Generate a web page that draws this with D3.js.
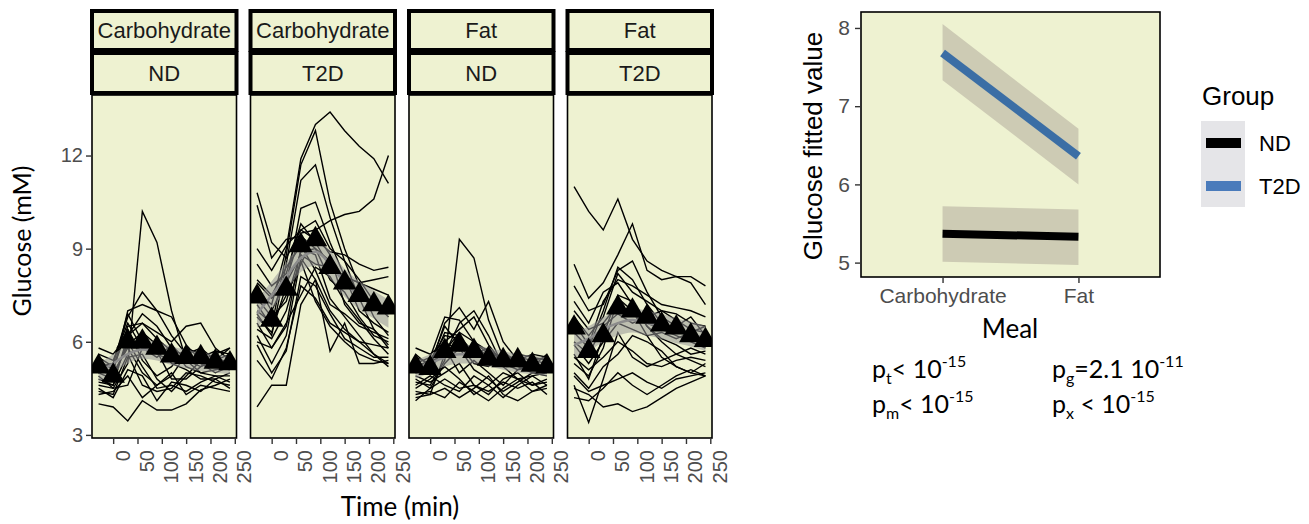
<!DOCTYPE html>
<html>
<head>
<meta charset="utf-8">
<script src="https://cdn.jsdelivr.net/npm/d3@7"></script>
<style>
  body { margin: 0; background: #fff; }
  svg { display: block; }
</style>
</head>
<body>
<svg id="chart" width="1309" height="524"></svg>
<script>
//
// DATA
//
// sampling times (min) of the meal test
const times = [-30, 0, 30, 60, 90, 120, 150, 180, 210, 240]
const timeTicks = [0, 50, 100, 150, 200, 250]
const glucoseTicks = [3, 6, 9, 12]

// facet labels
const meals = ['Carbohydrate', 'Carbohydrate', 'Fat', 'Fat']
const groups = ['ND', 'T2D', 'ND', 'T2D']

// individual subjects, glucose (mM) at each time
const subjCarbND = [
    [4.6, 4.5, 5.3, 10.2, 9.2, 7.0, 5.4, 5.0, 4.9, 4.9],
    [4.0, 3.9, 3.45, 4.1, 3.8, 3.8, 4.0, 4.45, 4.6, 4.8],
    [5.0, 5.3, 6.8, 7.6, 7.0, 6.2, 5.6, 5.3, 5.2, 5.5],
    [5.2, 5.0, 7.0, 7.2, 7.0, 6.8, 5.9, 5.4, 5.2, 5.3],
    [5.4, 5.1, 6.5, 6.6, 6.3, 6.0, 6.5, 6.6, 5.8, 5.4],
    [4.8, 4.6, 6.2, 6.9, 6.5, 5.8, 5.2, 5.0, 5.1, 5.2],
    [5.3, 5.0, 5.8, 5.0, 4.6, 4.9, 5.6, 5.3, 5.0, 5.2],
    [4.4, 4.3, 5.5, 5.6, 4.8, 4.4, 4.9, 5.4, 5.6, 5.8],
    [5.0, 4.8, 6.0, 5.2, 4.5, 4.6, 4.4, 4.7, 4.9, 4.7],
    [5.6, 5.4, 6.6, 5.8, 5.5, 5.9, 5.4, 5.2, 5.4, 5.6],
    [4.3, 4.4, 4.9, 4.2, 4.6, 5.0, 4.3, 4.6, 4.5, 4.4],
    [5.1, 4.9, 5.9, 6.3, 5.9, 5.3, 5.1, 4.8, 4.8, 5.0],
    [4.9, 4.5, 4.6, 5.8, 5.7, 4.8, 4.8, 5.2, 5.5, 5.3],
    [5.5, 5.2, 6.4, 5.4, 4.9, 5.2, 5.8, 5.6, 5.2, 5.1],
    [4.7, 4.6, 5.6, 4.6, 4.4, 4.5, 5.0, 4.9, 4.7, 4.6],
    [5.2, 5.3, 6.9, 6.0, 5.6, 5.4, 5.3, 5.5, 5.7, 5.6],
    [4.5, 4.2, 5.1, 4.9, 4.1, 4.7, 4.6, 4.4, 4.8, 4.5],
    [5.8, 5.6, 6.2, 6.6, 6.1, 5.7, 5.6, 5.8, 5.4, 5.8]
]
const subjCarbT2D = [
    [7.6, 7.2, 9.0, 11.9, 13.0, 13.4, 12.8, 12.3, 11.9, 11.1],
    [7.8, 7.0, 8.0, 9.5, 9.6, 9.9, 10.1, 10.2, 10.6, 12.0],
    [7.2, 6.5, 8.8, 11.7, 12.8, 10.5, 9.0, 7.8, 6.8, 6.2],
    [6.9, 6.2, 8.5, 11.2, 11.7, 10.0, 8.6, 7.4, 6.4, 5.8],
    [10.8, 9.2, 8.7, 9.6, 9.3, 8.9, 8.8, 8.5, 8.3, 8.4],
    [10.4, 8.7, 9.3, 9.4, 9.0, 8.6, 8.0, 7.6, 7.2, 7.0],
    [3.9, 4.6, 4.6, 7.2, 8.0, 7.0, 6.4, 6.0, 5.6, 5.2],
    [6.6, 5.8, 6.5, 9.0, 8.8, 7.4, 6.8, 6.2, 5.6, 5.3],
    [7.0, 6.6, 7.5, 8.5, 9.5, 8.8, 7.2, 6.6, 6.4, 5.9],
    [6.2, 5.3, 6.2, 8.7, 8.0, 5.7, 6.6, 5.3, 5.3, 5.4],
    [5.9, 5.0, 5.7, 8.1, 7.8, 6.9, 6.1, 5.8, 5.5, 5.5],
    [8.5, 7.8, 8.2, 9.8, 9.2, 8.4, 8.1, 7.9, 7.7, 7.5],
    [7.4, 6.8, 7.3, 8.9, 9.0, 8.0, 7.6, 6.8, 6.2, 6.0],
    [6.0, 5.8, 6.6, 7.5, 8.4, 8.1, 7.3, 6.7, 6.1, 5.6],
    [8.0, 7.5, 8.4, 9.1, 8.3, 7.2, 6.9, 6.5, 6.3, 6.1],
    [5.4, 4.8, 5.8, 7.8, 7.4, 6.6, 6.3, 6.0, 5.9, 5.8],
    [9.0, 8.3, 9.1, 9.6, 9.9, 9.0, 8.6, 8.0, 7.3, 6.8],
    [6.4, 6.1, 7.0, 8.6, 7.3, 6.5, 6.0, 5.6, 5.4, 5.3],
    [7.9, 7.4, 7.9, 8.8, 8.5, 8.4, 8.1, 7.9, 8.0, 8.1],
    [6.8, 6.3, 7.8, 10.3, 10.5, 9.2, 8.1, 7.0, 6.6, 6.3]
]
const subjFatND = [
    [4.7, 4.6, 5.4, 9.3, 8.7, 6.7, 5.5, 5.2, 5.0, 5.1],
    [5.0, 5.2, 6.6, 7.1, 6.4, 7.3, 6.0, 5.4, 5.3, 5.1],
    [5.3, 5.5, 6.8, 6.7, 6.0, 5.6, 5.5, 5.5, 5.4, 5.3],
    [4.4, 4.3, 5.6, 6.6, 7.0, 6.2, 5.2, 4.8, 4.6, 4.7],
    [5.6, 5.2, 6.3, 6.2, 5.6, 5.8, 5.3, 5.6, 5.5, 5.4],
    [4.3, 4.4, 4.2, 4.7, 4.4, 4.1, 4.5, 4.8, 4.4, 4.6],
    [4.2, 4.3, 4.5, 4.2, 4.5, 4.9, 4.3, 4.1, 4.4, 4.5],
    [5.1, 5.0, 6.0, 6.4, 6.8, 5.9, 5.3, 5.1, 5.2, 5.3],
    [4.9, 4.7, 5.0, 5.3, 4.6, 4.3, 4.8, 5.0, 4.6, 4.8],
    [5.4, 5.1, 5.8, 5.0, 5.4, 5.0, 4.6, 5.1, 5.3, 5.2],
    [4.6, 4.9, 4.6, 4.4, 4.9, 4.6, 4.2, 4.6, 4.9, 5.0],
    [5.2, 5.4, 6.2, 6.1, 5.7, 5.4, 5.6, 5.3, 5.1, 5.2],
    [5.8, 5.6, 6.0, 5.7, 5.9, 5.5, 5.2, 5.4, 5.6, 5.5],
    [4.8, 4.5, 5.3, 5.8, 5.1, 4.8, 4.4, 4.7, 5.0, 4.9],
    [5.5, 5.3, 6.5, 5.9, 5.3, 5.2, 5.7, 5.3, 5.2, 5.6],
    [4.5, 4.8, 5.2, 4.8, 4.3, 4.6, 5.0, 4.8, 4.9, 4.6],
    [5.0, 5.3, 5.7, 6.3, 6.0, 5.7, 5.5, 5.3, 5.4, 5.5],
    [4.1, 4.5, 4.8, 4.5, 4.6, 4.4, 4.7, 4.5, 4.7, 4.3]
]
const subjFatT2D = [
    [11.0, 10.2, 9.6, 10.6, 9.3, 8.6, 8.3, 8.1, 8.1, 7.8],
    [8.5, 7.4, 7.9, 8.8, 9.8, 8.3, 8.0, 8.1, 7.9, 7.2],
    [4.6, 3.4, 4.8, 6.3, 5.5, 5.2, 5.4, 5.6, 5.8, 5.6],
    [4.5, 4.3, 3.9, 4.0, 3.75, 3.9, 4.2, 4.5, 4.7, 4.9],
    [6.3, 5.8, 7.0, 8.4, 8.0, 7.2, 6.6, 6.4, 6.1, 6.0],
    [6.8, 6.2, 6.8, 8.2, 7.6, 7.3, 7.0, 6.9, 6.6, 6.5],
    [5.3, 4.9, 5.8, 7.4, 7.0, 6.2, 5.5, 5.2, 5.0, 5.3],
    [7.3, 6.6, 7.6, 7.9, 7.2, 6.5, 6.0, 5.6, 5.4, 5.2],
    [5.0, 4.5, 5.2, 5.6, 6.2, 6.0, 5.7, 5.2, 5.0, 4.9],
    [7.8, 7.0, 7.2, 8.3, 8.6, 7.6, 6.8, 6.5, 6.8, 6.2],
    [5.9, 5.3, 6.0, 6.6, 6.4, 6.2, 6.3, 6.1, 6.3, 6.5],
    [4.9, 4.4, 4.6, 4.8, 5.0, 4.7, 4.5, 4.8, 4.9, 5.0],
    [6.0, 5.6, 6.5, 6.9, 6.6, 6.8, 7.0, 6.7, 6.4, 6.3],
    [5.5, 5.1, 5.5, 6.0, 5.7, 5.3, 5.2, 5.4, 5.5, 5.4],
    [6.6, 5.9, 7.3, 8.0, 7.8, 7.5, 7.2, 7.1, 7.0, 6.8],
    [4.2, 4.1, 4.5, 5.0, 4.6, 4.3, 4.6, 4.9, 5.1, 4.9],
    [7.0, 6.4, 6.6, 7.2, 6.9, 6.6, 6.4, 6.2, 6.0, 5.8],
    [5.6, 4.8, 6.2, 7.5, 7.3, 6.5, 6.1, 5.9, 5.6, 5.7]
]

// group means (triangles)
const meanCarbND = [5.2, 4.9, 6.0, 6.0, 5.8, 5.55, 5.5, 5.5, 5.35, 5.3]
const meanCarbT2D = [7.45, 6.7, 7.7, 9.1, 9.3, 8.4, 7.9, 7.5, 7.2, 7.1]
const meanFatND = [5.2, 5.15, 5.7, 5.9, 5.7, 5.45, 5.4, 5.4, 5.25, 5.2]
const meanFatT2D = [6.45, 5.7, 6.2, 7.1, 7.0, 6.8, 6.55, 6.45, 6.2, 6.05]

// smoothed fit (grey band) and its half width
const fitCarbND = [5.0, 5.3, 5.6, 5.75, 5.7, 5.55, 5.45, 5.35, 5.3, 5.25]
const fitCarbT2D = [6.9, 7.5, 8.1, 8.7, 8.9, 8.5, 7.9, 7.5, 7.2, 6.9]
const fitFatND = [5.1, 5.3, 5.5, 5.6, 5.6, 5.5, 5.4, 5.3, 5.25, 5.2]
const fitFatT2D = [5.9, 6.1, 6.4, 6.6, 6.7, 6.6, 6.5, 6.35, 6.25, 6.1]
const fitHalfWidth = [0.3, 0.45, 0.3, 0.4]

// right chart: model fitted values by meal and group
const mealCats = ['Carbohydrate', 'Fat']
const groupCats = ['ND', 'T2D']
const fittedTicks = [5, 6, 7, 8]
const fitND = [5.37, 5.33]
const lowND = [5.01, 4.97]
const highND = [5.72, 5.68]
const fitT2D = [7.68, 6.36]
const lowT2D = [7.33, 6.0]
const highT2D = [8.05, 6.71]

//
// GLOBALS
//
const svg = d3.select('#chart')
const ggFont = "'Liberation Sans', Arial, sans-serif"
const calFont = "Lato, 'Open Sans', sans-serif"
const panelBg = '#eef2d1'

const subjects = [subjCarbND, subjCarbT2D, subjFatND, subjFatT2D]
const means = [meanCarbND, meanCarbT2D, meanFatND, meanFatT2D]
const fits = [fitCarbND, fitCarbT2D, fitFatND, fitFatT2D]

// styles an axis the way ggplot draws it
const styleAxis = (g, size) => {
    g.select('.domain').remove()
    g.selectAll('.tick line').attr('stroke', '#333').attr('stroke-width', 1.4)
    g.selectAll('.tick text')
        .attr('fill', '#4d4d4d')
        .style('font-family', ggFont)
        .style('font-size', size + 'px')
}

//
// LEFT: faceted time courses
//
const panelTop = 95
const panelBottom = 438
const panelW = 144.5
const panelLefts = [92, 250.5, 409, 567.5]

const y = d3.scaleLinear().domain([2.9, 13.95]).range([panelBottom, panelTop])

panelLefts.forEach((left, i) => {
    const x = d3.scaleLinear().domain([-43.5, 253.5]).range([left, left + panelW])
    const g = svg.append('g').attr('class', `panel panel-${i}`)

    // strips
    const strips = [meals[i], groups[i]]
    const stripY = [[11, 50], [53, 93]]
    strips.forEach((label, j) => {
        g.append('rect')
            .attr('x', left)
            .attr('y', stripY[j][0])
            .attr('width', panelW)
            .attr('height', stripY[j][1] - stripY[j][0])
            .attr('fill', panelBg)
            .attr('stroke', '#000')
            .attr('stroke-width', 4)
        g.append('text')
            .attr('x', left + panelW / 2)
            .attr('y', (stripY[j][0] + stripY[j][1]) / 2 + 7.5)
            .attr('text-anchor', 'middle')
            .attr('fill', '#1a1a1a')
            .style('font-family', ggFont)
            .style('font-size', '22px')
            .text(label)
    })

    // background
    g.append('rect')
        .attr('x', left)
        .attr('y', panelTop)
        .attr('width', panelW)
        .attr('height', panelBottom - panelTop)
        .attr('fill', panelBg)

    const clipId = 'clip-' + i
    g.append('clipPath')
        .attr('id', clipId)
        .append('rect')
        .attr('x', left)
        .attr('y', panelTop)
        .attr('width', panelW)
        .attr('height', panelBottom - panelTop)
    const inner = g.append('g').attr('clip-path', `url(#${clipId})`)

    // one line per subject
    const line = d3.line()
        .x((d, k) => x(times[k]))
        .y(d => y(d))
    inner.selectAll('path.subject')
        .data(subjects[i])
        .join('path')
        .attr('class', 'subject')
        .attr('d', line)
        .attr('fill', 'none')
        .attr('stroke', '#000')
        .attr('stroke-width', 1.4)

    // grey smooth band
    const band = d3.area()
        .x((d, k) => x(times[k]))
        .y0(d => y(d - fitHalfWidth[i]))
        .y1(d => y(d + fitHalfWidth[i]))
        .curve(d3.curveMonotoneX)
    inner.append('path')
        .attr('d', band(fits[i]))
        .attr('fill', 'rgba(150,150,150,0.55)')
    inner.append('path')
        .attr('d', line.curve(d3.curveMonotoneX)(fits[i]))
        .attr('fill', 'none')
        .attr('stroke', '#8c8c8c')
        .attr('stroke-width', 2.5)

    // mean triangles
    inner.selectAll('path.mean')
        .data(means[i])
        .join('path')
        .attr('class', 'mean')
        .attr('transform', (d, k) => `translate(${x(times[k])},${y(d)})`)
        .attr('d', d3.symbol(d3.symbolTriangle, 240))
        .attr('fill', '#000')

    // panel border
    g.append('rect')
        .attr('x', left)
        .attr('y', panelTop)
        .attr('width', panelW)
        .attr('height', panelBottom - panelTop)
        .attr('fill', 'none')
        .attr('stroke', '#000')
        .attr('stroke-width', 1.6)

    // x axis with vertical labels
    const ax = g.append('g')
        .attr('transform', `translate(0,${panelBottom})`)
        .call(d3.axisBottom(x).tickValues(timeTicks).tickSize(6).tickFormat(d3.format('d')))
    styleAxis(ax, 20)
    ax.selectAll('.tick text')
        .attr('transform', 'rotate(-90)')
        .attr('text-anchor', 'end')
        .attr('x', -12)
        .attr('y', 16)
        .attr('dy', 0)

    // y axis on first panel only
    if (i === 0) {
        const ay = g.append('g')
            .attr('transform', `translate(${left},0)`)
            .call(d3.axisLeft(y).tickValues(glucoseTicks).tickSize(6))
        styleAxis(ay, 20)
        ay.selectAll('.tick text').attr('x', -9)
    }
})

// axis titles
svg.append('text')
    .attr('transform', 'translate(31,241) rotate(-90)')
    .attr('text-anchor', 'middle')
    .style('font-family', calFont)
    .style('font-size', '25px')
    .text('Glucose (mM)')
svg.append('text')
    .attr('x', 400)
    .attr('y', 516)
    .attr('text-anchor', 'middle')
    .style('font-family', calFont)
    .style('font-size', '26px')
    .text('Time (min)')

//
// RIGHT: fitted values
//
const rLeft = 861
const rRight = 1160
const rTop = 12
const rBottom = 277

const xr = d3.scalePoint().domain(mealCats).range([rLeft, rRight]).padding(0.6)
const yr = d3.scaleLinear().domain([4.816, 8.204]).range([rBottom, rTop])

const rg = svg.append('g').attr('class', 'fitted')
rg.append('rect')
    .attr('x', rLeft)
    .attr('y', rTop)
    .attr('width', rRight - rLeft)
    .attr('height', rBottom - rTop)
    .attr('fill', panelBg)

const series = [
    { name: groupCats[0], fit: fitND, low: lowND, high: highND, color: '#000' },
    { name: groupCats[1], fit: fitT2D, low: lowT2D, high: highT2D, color: '#3b6ea5' }
]
const ribbon = d3.area()
    .x((d, k) => xr(mealCats[k]))
    .y0(d => yr(d[0]))
    .y1(d => yr(d[1]))
series.forEach(s => {
    rg.append('path')
        .attr('d', ribbon(s.low.map((v, k) => [v, s.high[k]])))
        .attr('fill', '#cdcbb4')
})
const fitLine = d3.line()
    .x((d, k) => xr(mealCats[k]))
    .y(d => yr(d))
series.forEach(s => {
    rg.append('path')
        .attr('d', fitLine(s.fit))
        .attr('fill', 'none')
        .attr('stroke', s.color)
        .attr('stroke-width', 8)
})
rg.append('rect')
    .attr('x', rLeft)
    .attr('y', rTop)
    .attr('width', rRight - rLeft)
    .attr('height', rBottom - rTop)
    .attr('fill', 'none')
    .attr('stroke', '#000')
    .attr('stroke-width', 1.6)

const rax = rg.append('g')
    .attr('transform', `translate(0,${rBottom})`)
    .call(d3.axisBottom(xr).tickSize(6))
styleAxis(rax, 21)
rax.selectAll('.tick text').attr('y', 11).attr('dy', '0.71em')

const ray = rg.append('g')
    .attr('transform', `translate(${rLeft},0)`)
    .call(d3.axisLeft(yr).tickValues(fittedTicks).tickSize(6).tickFormat(d3.format('d')))
styleAxis(ray, 21)
ray.selectAll('.tick text').attr('x', -11)

rg.append('text')
    .attr('transform', 'translate(822,146) rotate(-90)')
    .attr('text-anchor', 'middle')
    .style('font-family', ggFont)
    .style('font-size', '26px')
    .text('Glucose fitted value')
rg.append('text')
    .attr('x', 1010)
    .attr('y', 338)
    .attr('text-anchor', 'middle')
    .style('font-family', calFont)
    .style('font-size', '26px')
    .text('Meal')

// legend
const lg = svg.append('g').attr('class', 'legend')
lg.append('text')
    .attr('x', 1202)
    .attr('y', 105)
    .style('font-family', ggFont)
    .style('font-size', '26px')
    .text('Group')
lg.append('rect')
    .attr('x', 1201)
    .attr('y', 121)
    .attr('width', 44)
    .attr('height', 86)
    .attr('fill', '#e5e5e8')
const legendY = d3.scalePoint().domain(groupCats).range([143, 186])
const legendColors = ['#000', '#4a7bbb']
groupCats.forEach((name, k) => {
    lg.append('line')
        .attr('x1', 1206)
        .attr('x2', 1241)
        .attr('y1', legendY(name))
        .attr('y2', legendY(name))
        .attr('stroke', legendColors[k])
        .attr('stroke-width', 10)
    lg.append('text')
        .attr('x', 1259)
        .attr('y', legendY(name) + 8)
        .style('font-family', ggFont)
        .style('font-size', '22px')
        .text(name)
})

// p-values
const pvals = [
    { x: 872, y: 378, sub: 't', rel: '< 10', exp: '-15' },
    { x: 872, y: 413, sub: 'm', rel: '< 10', exp: '-15' },
    { x: 1052, y: 378, sub: 'g', rel: '=2.1 10', exp: '-11' },
    { x: 1052, y: 413, sub: 'x', rel: ' < 10', exp: '-15' }
]
pvals.forEach(p => {
    const t = svg.append('text')
        .attr('x', p.x)
        .attr('y', p.y)
        .style('font-family', calFont)
        .style('font-size', '25px')
        .attr('xml:space', 'preserve')
    t.append('tspan').text('p')
    t.append('tspan').attr('dy', 6).style('font-size', '16px').text(p.sub)
    t.append('tspan').attr('dy', -6).text(p.rel)
    t.append('tspan').attr('dy', -11).style('font-size', '16px').text(p.exp)
})
</script>
</body>
</html>
